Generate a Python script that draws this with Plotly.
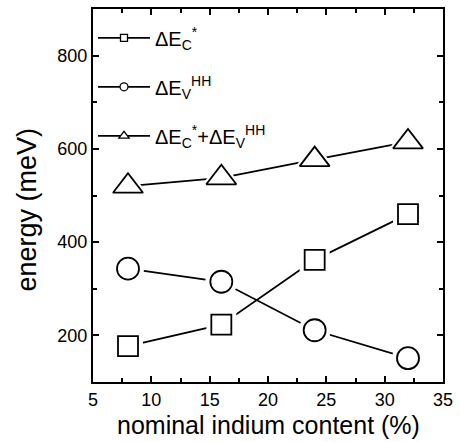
import plotly.graph_objects as go

indium = [8, 16, 24, 32]
dEc = [177, 223, 362, 460]
dEv = [343, 315, 211, 151]
dSum = [520, 538, 577, 615]

names = ["ΔE<sub>C</sub><sup>*</sup>", "ΔE<sub>V</sub><sup>HH</sup>",
         "ΔE<sub>C</sub><sup>*</sup>+ΔE<sub>V</sub><sup>HH</sup>"]
symbols = ["square", "circle", "triangle-up"]
sizes = [20, 22, 26]
leg_sizes = [7, 8, 9]
series = [dEc, dEv, dSum]
x_title = "nominal indium content (%)"
y_title = "energy (meV)"
FONT = "Liberation Sans, Arial, sans-serif"

fig = go.Figure()
# lines
for ys in series:
    fig.add_trace(go.Scatter(x=indium, y=ys, mode="lines", line=dict(color="black", width=1.8),
                             showlegend=False, hoverinfo="skip"))
# white halos for gaps
for ys, sym, s in zip(series, symbols, sizes):
    fig.add_trace(go.Scatter(x=indium, y=ys, mode="markers",
                             marker=dict(symbol=sym, size=s + 10, color="white", line=dict(width=0)),
                             showlegend=False, hoverinfo="skip"))
# markers
for ys, sym, s, nm in zip(series, symbols, sizes, names):
    fig.add_trace(go.Scatter(x=indium, y=ys, mode="markers", name=nm,
                             marker=dict(symbol=sym, size=s, color="white", line=dict(color="black", width=1.8)),
                             showlegend=False))
# legend entries
for i, (sym, nm, ls) in enumerate(zip(symbols, names, leg_sizes)):
    fig.add_trace(go.Scatter(x=[None], y=[None], mode="lines+markers", name=nm,
                             legendgroup=f"g{i}",
                             line=dict(color="black", width=1.8),
                             marker=dict(symbol=sym, size=ls, color="white", line=dict(color="black", width=1.3))))

axis_common = dict(showline=True, linecolor="black", linewidth=2, mirror="allticks",
                   ticks="inside", ticklen=6, tickwidth=1.5, tickcolor="black",
                   showgrid=False, zeroline=False,
                   tickfont=dict(family=FONT, size=18, color="black"))

fig.update_xaxes(range=[5, 35], dtick=5, tick0=5,
                 minor=dict(ticks="inside", dtick=2.5, ticklen=4, tickwidth=1.5, tickcolor="black"),
                 **axis_common)
fig.update_yaxes(range=[100, 900], dtick=200, tick0=0,
                 minor=dict(ticks="inside", dtick=100, ticklen=4, tickwidth=1.5, tickcolor="black"),
                 **axis_common)

fig.add_annotation(text=x_title, xref="paper", yref="paper", x=0.5, y=0,
                   xanchor="center", yanchor="middle", yshift=-43, showarrow=False,
                   borderpad=0,
                   font=dict(family=FONT, size=25, color="black"))
fig.add_annotation(text=y_title, xref="paper", yref="paper", x=0, y=0.5,
                   xanchor="center", yanchor="middle", xshift=-67, yshift=-14,
                   textangle=-90, showarrow=False,
                   font=dict(family=FONT, size=27, color="black"))

fig.update_layout(
    width=460, height=442,
    margin=dict(l=93, r=12, t=7, b=60),
    plot_bgcolor="white", paper_bgcolor="white",
    legend=dict(x=0.0, y=0.975, xanchor="left", yanchor="top", bgcolor="rgba(0,0,0,0)",
                font=dict(family=FONT, size=20, color="black"),
                itemsizing="trace", tracegroupgap=20, itemwidth=52),
)

fig.write_html("out.html")
